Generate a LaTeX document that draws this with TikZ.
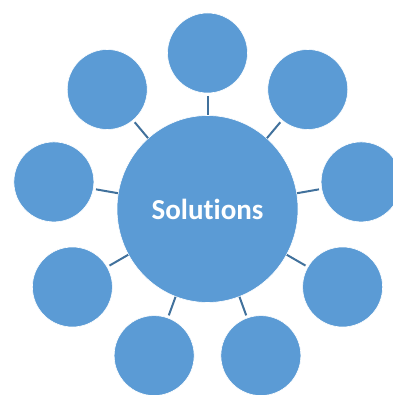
\documentclass[tikz,border=0pt]{standalone}
\usepackage{fontspec}
\setmainfont{Carlito}[Ligatures=NoCommon]
\usetikzlibrary{shapes.geometric}
\definecolor{fillblue}{HTML}{5B9BD5}
\definecolor{lineblue}{HTML}{41719C}
\begin{document}
\begin{tikzpicture}[x=1pt,y=-1pt,
  outer/.style={circle,fill=fillblue,draw=white,line width=0.6pt,inner sep=0pt,minimum size=80pt},
  hub/.style={ellipse,fill=fillblue,draw=white,line width=0.6pt,inner sep=0pt,minimum width=181pt,minimum height=187pt,
    font=\fontsize{29}{34}\selectfont\bfseries,text=white},
  conn/.style={draw=lineblue,line width=2pt,shorten <=2.5pt}]
\useasboundingbox (0,0) rectangle (392,395);
\node[hub] (c) at (207.5,209) {Solutions};
\foreach \i/\a in {1/90,2/130,3/170,4/210,5/250,6/290,7/330,8/10,9/50}{
  \node[outer] (o\i) at ({207.5+156*cos(\a)},{209-156*sin(\a)}) {};
}
\foreach \i in {1,...,9}{
  \draw[conn] (o\i) -- (c);
}
\end{tikzpicture}
\end{document}
